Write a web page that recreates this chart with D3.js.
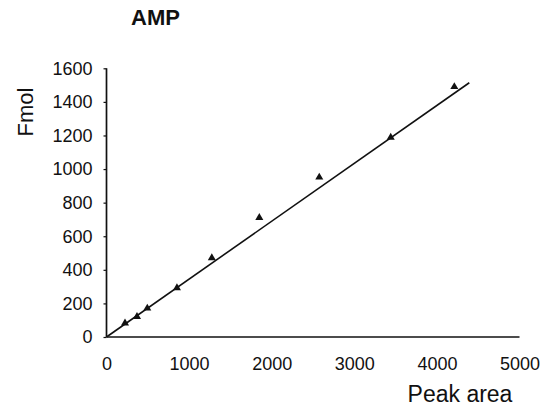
<!DOCTYPE html>
<html>
<head>
<meta charset="utf-8">
<script src="https://cdn.jsdelivr.net/npm/d3@7"></script>
<style>
  html, body { margin: 0; padding: 0; background: #fff; }
  svg { display: block; }
  text { font-family: "Liberation Sans", Arial, sans-serif; fill: #111; }
</style>
</head>
<body>
<script>
// Data
const peakArea = [224, 369, 494, 853, 1275, 1850, 2576, 3441, 4211];
const fmol     = [83, 121, 171, 292, 471, 710, 951, 1189, 1490];
const fitX = [0, 4392];
const fitY = [0, 1514];
const xTicks = [0, 1000, 2000, 3000, 4000, 5000];
const yTicks = [0, 200, 400, 600, 800, 1000, 1200, 1400, 1600];
const title = "AMP";
const xTitle = "Peak area";
const yTitle = "Fmol";

const W = 547, H = 406;
const svg = d3.select("body").append("svg").attr("width", W).attr("height", H);

const x = d3.scaleLinear().domain([0, 5000]).range([106.5, 519.5]);
const y = d3.scaleLinear().domain([0, 1600]).range([337, 68.3]);

// Title
svg.append("text").attr("x", 131).attr("y", 25).attr("font-size", 22)
  .attr("font-weight", "bold").text(title);

// Y axis
const yAxis = svg.append("g").attr("transform", `translate(${x(0)},0)`)
  .call(d3.axisLeft(y).tickValues(yTicks).tickSize(3).tickPadding(11).tickFormat(d3.format("d")));
yAxis.select(".domain").attr("stroke", "#111").attr("stroke-width", 1.7).attr("d", `M0,${y(0)}V${y(1600)}`);
yAxis.selectAll(".tick line").attr("stroke", "#111").attr("stroke-width", 1.2);
yAxis.selectAll(".tick text").attr("font-size", 18).attr("font-family", "Liberation Sans, Arial, sans-serif").attr("fill", "#111");

// X axis
const xAxis = svg.append("g").attr("transform", `translate(0,${y(0)})`)
  .call(d3.axisBottom(x).tickValues(xTicks).tickSize(0).tickPadding(20).tickFormat(d3.format("d")));
xAxis.select(".domain").attr("stroke", "#111").attr("stroke-width", 1.7).attr("d", `M${x(0)},0H${x(5000)}`);
xAxis.selectAll(".tick text").attr("font-size", 18).attr("font-family", "Liberation Sans, Arial, sans-serif").attr("fill", "#111");

// Axis titles
svg.append("text").attr("x", 460).attr("y", 402).attr("font-size", 23)
  .attr("text-anchor", "middle").text(xTitle);
svg.append("text").attr("transform", "translate(33,112) rotate(-90)").attr("font-size", 22)
  .attr("text-anchor", "middle").text(yTitle);

// Fit line
svg.append("line")
  .attr("x1", x(fitX[0])).attr("y1", y(fitY[0]))
  .attr("x2", x(fitX[1])).attr("y2", y(fitY[1]))
  .attr("stroke", "#111").attr("stroke-width", 1.6);

// Points
const tri = d3.symbol().type(d3.symbolTriangle).size(28);
svg.append("g").selectAll("path").data(peakArea.map((v, i) => [v, fmol[i]]))
  .join("path")
  .attr("transform", d => `translate(${x(d[0])},${y(d[1])})`)
  .attr("d", tri)
  .attr("fill", "#111");
</script>
</body>
</html>
